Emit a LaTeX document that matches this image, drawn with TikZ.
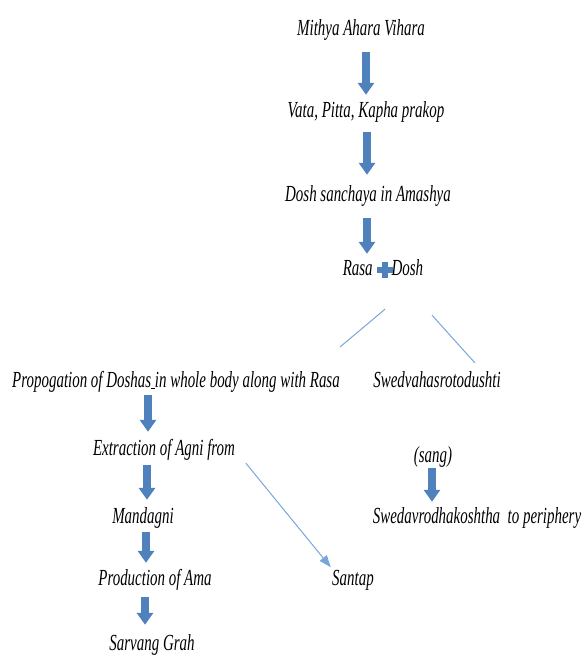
\documentclass[tikz,border=0pt]{standalone}
\usepackage{fontspec}
\newfontfamily\flowfont[FakeStretch=0.65]{Liberation Serif}
\usetikzlibrary{arrows.meta,positioning,calc}
\definecolor{flowblue}{RGB}{79,129,189}
\definecolor{linkblue}{RGB}{120,166,218}

\begin{document}
\begin{tikzpicture}[x=1pt, y=-1pt,
    label/.style={font=\flowfont\itshape\fontsize{23}{26}\selectfont, inner sep=0pt, text height=16pt, text depth=6pt},
    flow/.style={draw=flowblue, line width=7.5pt, -{Triangle[length=12pt, width=16pt]}},
    branch/.style={draw=linkblue, line width=1pt}]
    \useasboundingbox (0,0) rectangle (581,660);

    % main chain
    \node[label] (mithya) at (361,31) {Mithya Ahara Vihara};
    \node[label] (prakop) at (366,113) {Vata, Pitta, Kapha prakop};
    \node[label] (sanchaya) at (368,196) {Dosh sanchaya in Amashya};
    \node[label] (rasadosh) at (383,270) {Rasa\hspace{19pt}Dosh};
    \fill[flowblue] ($(rasadosh.center)+(-6.5,-3)$) rectangle ($(rasadosh.center)+(9.5,3)$);
    \fill[flowblue] ($(rasadosh.center)+(-1.5,-8)$) rectangle ($(rasadosh.center)+(4.5,8)$);

    % left branch
    \node[label] (propog) at (176,382) {Propogation of Doshas\underline{\ }in whole body along with Rasa};
    \node[label] (agni) at (164,450) {Extraction of Agni from};
    \node[label] (mandagni) at (143,518) {Mandagni};
    \node[label] (ama) at (155,580) {Production of Ama};
    \node[label] (grah) at (152,645) {Sarvang Grah};
    \node[label] (santap) at (353,580) {Santap};

    % right branch
    \node[label] (sweda) at (437,382) {Swedvahasrotodushti};
    \node[label] (sang) at (433,457) {(sang)};
    \node[label] (rodha) at (477,518) {Swedavrodhakoshtha\ \ to periphery};

    \draw[flow, shorten <=10pt, shorten >=7pt] ([xshift=5pt]mithya.south) -- ([xshift=0pt]prakop.north);
    \draw[flow, shorten <=8pt, shorten >=10pt] ([xshift=1pt]prakop.south) -- ([xshift=-1pt]sanchaya.north);
    \draw[flow, shorten <=11pt, shorten >=5pt] ([xshift=-1pt]sanchaya.south) -- ([xshift=-16pt]rasadosh.north);
    \draw[flow, shorten <=2pt, shorten >=7pt] ([xshift=-28pt]propog.south) -- ([xshift=-16pt]agni.north);
    \draw[flow, shorten <=4pt, shorten >=7pt] ([xshift=-17pt]agni.south) -- ([xshift=4pt]mandagni.north);
    \draw[flow, shorten <=3pt, shorten >=6pt] ([xshift=3pt]mandagni.south) -- ([xshift=-9pt]ama.north);
    \draw[flow, shorten <=6pt, shorten >=9pt] ([xshift=-10pt]ama.south) -- ([xshift=-7pt]grah.north);
    \draw[flow, shorten <=0pt, shorten >=5pt] ([xshift=-1pt]sang.south) -- ([xshift=-45pt]rodha.north);

    \coordinate (splitL) at (340,347);
    \coordinate (splitR) at (475,363);
    \draw[branch] ([shift={(2,28)}]rasadosh.south) -- (splitL);
    \draw[branch] ([shift={(49,34)}]rasadosh.south) -- (splitR);
    \draw[branch, -{Triangle[length=12pt, width=9pt]}, shorten <=17pt, shorten >=2pt] (agni.east) -- (santap.north west);
\end{tikzpicture}
\end{document}
